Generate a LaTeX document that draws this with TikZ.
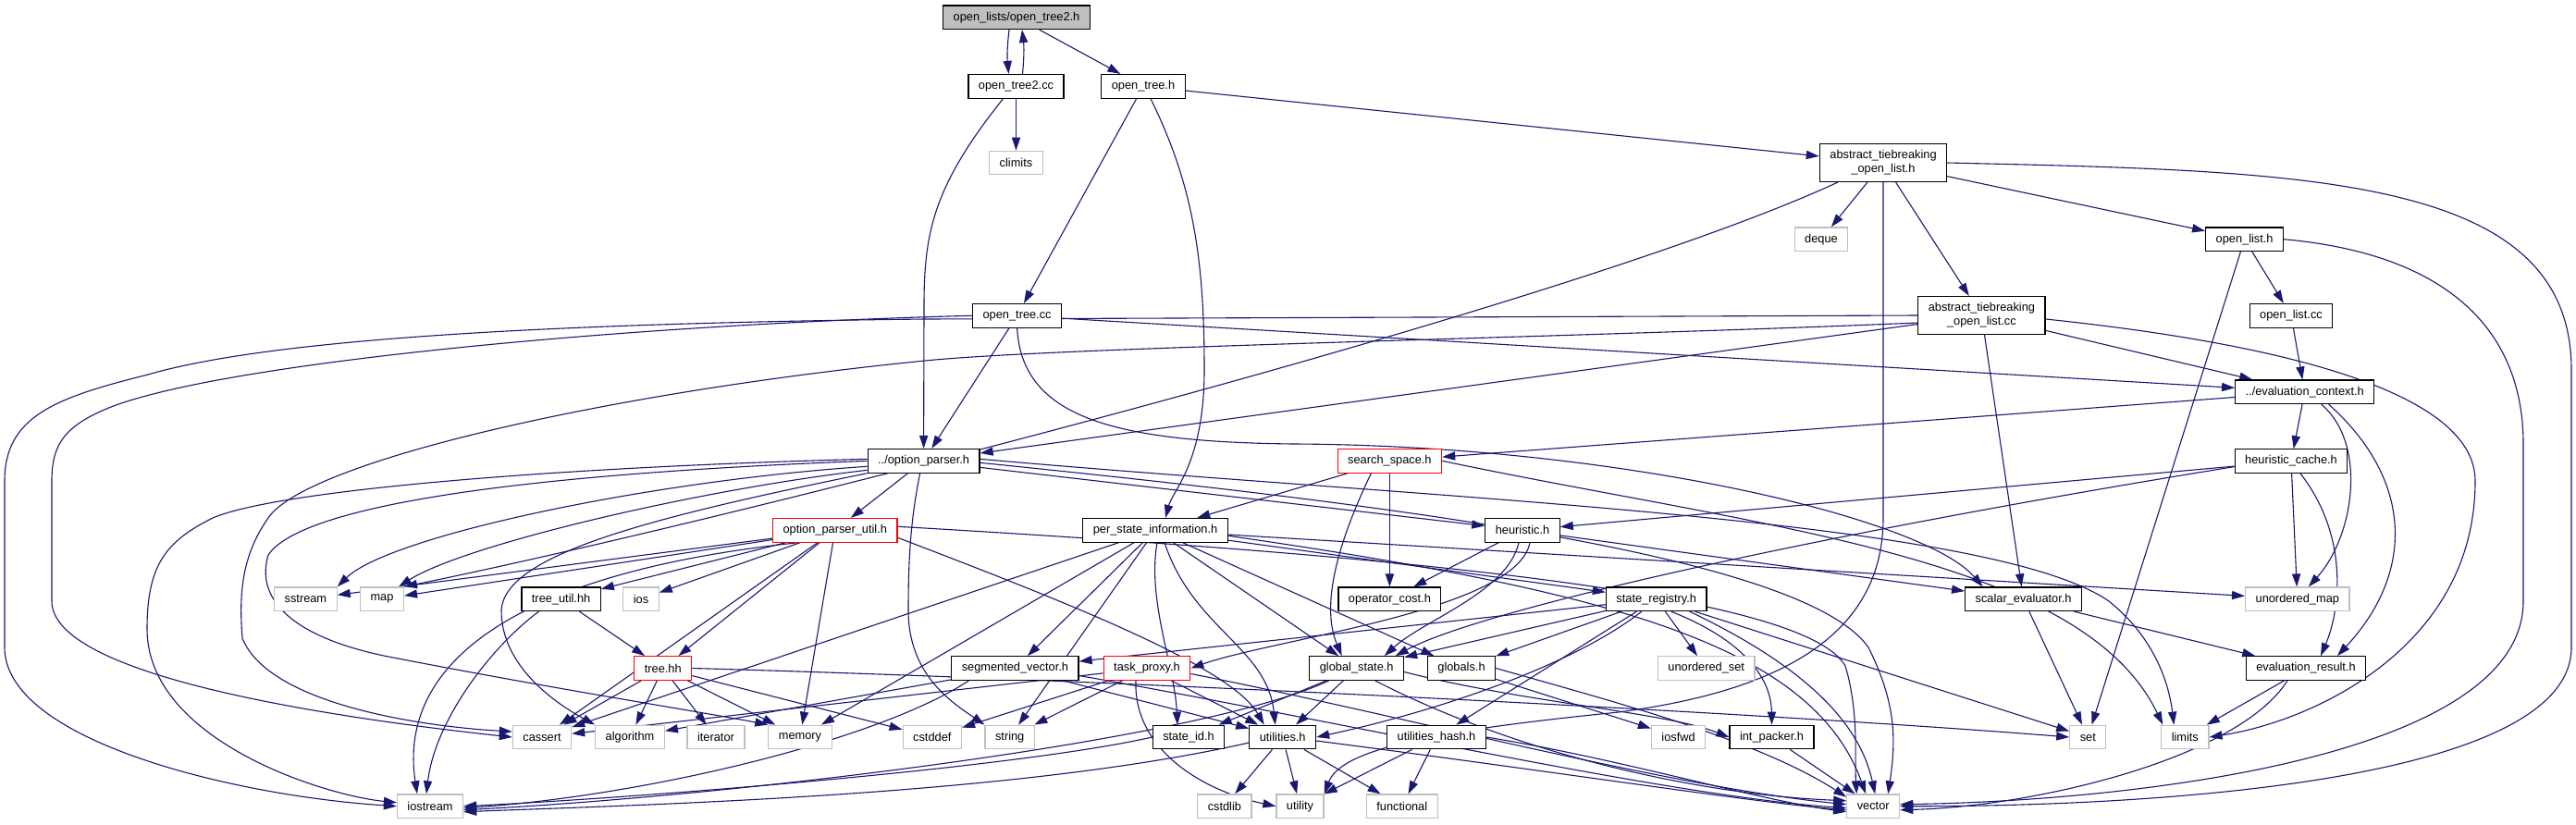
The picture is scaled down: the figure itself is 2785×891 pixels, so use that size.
\documentclass[tikz,border=0pt]{standalone}
\usepackage{fontspec}
\setmainfont{Liberation Sans}
\usepackage{tikz}
\usetikzlibrary{arrows.meta,backgrounds}
\definecolor{navy}{HTML}{191970}
\definecolor{sysgrey}{HTML}{BFBFBF}
\definecolor{rootgrey}{HTML}{BFBFBF}
\definecolor{partred}{HTML}{FF0000}

\begin{document}
\begin{tikzpicture}[x=0.5pt,y=-0.5pt,
    file/.style={draw=black,fill=white,line width=0.6pt,minimum height=12.8pt,
      inner xsep=5.5pt,inner ysep=0pt,font=\fontsize{6.4pt}{7.6pt}\selectfont},
    sys/.style={file,draw=sysgrey},
    part/.style={file,draw=partred},
    twoline/.style={align=center,minimum height=20.5pt},
    edge/.style={draw=navy,line width=0.55pt,-{Triangle[length=7pt,width=4.6pt]}}]
  \useasboundingbox (0,0) rectangle (2785,891);
  % files, row by row
  \node[file,fill=rootgrey] (root) at (1099,18.7) {open\_lists/open\_tree2.h};
  \node[file] (otcc2) at (1098.5,93.3) {open\_tree2.cc};
  \node[file] (oth) at (1236,93.3) {open\_tree.h};
  \node[sys] (climits) at (1098.5,176) {climits};
  \node[file,twoline] (absh) at (2036,176) {abstract\_tiebreaking\\\_open\_list.h};
  \node[sys] (deque) at (1969,258.7) {deque};
  \node[file] (olh) at (2426.6,258.7) {open\_list.h};
  \node[file] (otcc) at (1099.6,341.3) {open\_tree.cc};
  \node[file,twoline] (abscc) at (2142.4,341) {abstract\_tiebreaking\\\_open\_list.cc};
  \node[file] (olcc) at (2477,341.3) {open\_list.cc};
  \node[file] (evc) at (2491.7,423.8) {../evaluation\_context.h};
  \node[file] (op) at (998.6,498.3) {../option\_parser.h};
  \node[part] (ss) at (1502.4,498.3) {search\_space.h};
  \node[file] (hc) at (2477,498.6) {heuristic\_cache.h};
  \node[part] (opu) at (902.8,573.3) {option\_parser\_util.h};
  \node[file] (psi) at (1249,573.3) {per\_state\_information.h};
  \node[file] (heur) at (1646,573.3) {heuristic.h};
  \node[sys] (sstream) at (330.4,647.7) {sstream};
  \node[sys] (map) at (413,647.7) {map};
  \node[file] (tu) at (606.6,647.7) {tree\_util.hh};
  \node[sys] (ios) at (693,647.7) {ios};
  \node[file] (oc) at (1502.4,647.8) {operator\_cost.h};
  \node[file] (sr) at (1790.7,647.8) {state\_registry.h};
  \node[file] (se) at (2187.6,647.8) {scalar\_evaluator.h};
  \node[sys] (umap) at (2483.8,647.8) {unordered\_map};
  \node[part] (tree) at (716.8,722.5) {tree.hh};
  \node[file] (sv) at (1097.4,722.5) {segmented\_vector.h};
  \node[part] (tp) at (1240,722.5) {task\_proxy.h};
  \node[file] (gs) at (1466.7,722.5) {global\_state.h};
  \node[file] (glob) at (1580,722.5) {globals.h};
  \node[sys] (uset) at (1844.7,722.5) {unordered\_set};
  \node[file] (er) at (2493,722.5) {evaluation\_result.h};
  \node[sys] (cassert) at (586,797) {cassert};
  \node[sys] (algorithm) at (681,797) {algorithm};
  \node[sys] (iterator) at (774,797) {iterator};
  \node[sys] (memory) at (865,797) {memory};
  \node[sys] (cstddef) at (1007.8,797) {cstddef};
  \node[sys] (string) at (1091.7,797) {string};
  \node[file] (sid) at (1285,797) {state\_id.h};
  \node[file] (util) at (1386.7,797) {utilities.h};
  \node[file] (uh) at (1553,797) {utilities\_hash.h};
  \node[sys] (iosfwd) at (1814.6,797) {iosfwd};
  \node[file] (ip) at (1915.5,797) {int\_packer.h};
  \node[sys] (set) at (2257.3,797) {set};
  \node[sys] (limits) at (2362.3,797) {limits};
  \node[sys] (iostream) at (465,871.7) {iostream};
  \node[sys] (cstdlib) at (1323.9,871.7) {cstdlib};
  \node[sys] (utility) at (1405.5,871.7) {utility};
  \node[sys] (functional) at (1515.8,871.7) {functional};
  \node[sys] (vector) at (2025.2,871.7) {vector};

  \begin{scope}[on background layer]
    \fill[white] (0,0) rectangle (2785,891);
    % plain includes
    \foreach \a/\b in {root/oth, otcc2/climits, oth/otcc, oth/absh, absh/deque,
        absh/abscc, absh/olh, olh/olcc, olh/set, olcc/evc, abscc/evc, abscc/se,
        abscc/op, otcc/op, otcc/evc, evc/ss, evc/hc, hc/heur, hc/umap, op/opu,
        op/heur, ss/psi, ss/oc, heur/oc, heur/se, psi/sr, psi/sv, psi/gs,
        psi/glob, psi/umap, psi/cassert, psi/memory, psi/string, sr/sv, sr/gs,
        sr/glob, sr/uset, sr/uh, sr/set, opu/tu, opu/ios, opu/tree, opu/sstream,
        opu/map, opu/cassert, opu/memory, tu/tree, tree/cassert, tree/algorithm,
        tree/iterator, tree/memory, tree/cstddef, tp/string, tp/util, tp/cstddef,
        tp/cassert, sv/util, sv/algorithm, gs/sid, gs/util, glob/iosfwd, se/er,
        se/set, er/limits, util/cstdlib, util/utility, util/functional,
        uh/utility, uh/functional, ip/vector}
      \draw[edge] (\a) -- (\b);
    % routed includes
    \draw[edge] ([xshift=-4pt]root.south) to[bend right=6] ([xshift=-4pt]otcc2.north);
    \draw[edge] ([xshift=3.5pt]otcc2.north) to[bend right=6] ([xshift=3pt]root.south);
    \draw[edge] ([xshift=-7pt]otcc2.south) .. controls (1010,200) and (999,250) .. (999,330) -- (op.north);
    \draw[edge] ([xshift=4pt]oth.south) .. controls (1290,200) and (1302,280) .. (1302,400)
      .. controls (1302,500) and (1268,530) .. ([xshift=5.5pt]psi.north);
    \draw[edge] (otcc.south) .. controls (1105,450) and (1200,478) .. (1400,480)
      .. controls (1750,482) and (2080,560) .. ([xshift=-22pt]se.north);
    \draw[edge] (otcc.west) .. controls (700,350) and (250,390) .. (120,440)
      .. controls (70,460) and (56,480) .. (56,520) -- (56,650)
      .. controls (56,730) and (350,775) .. (cassert.west);
    \draw[edge] (abscc.west) -- (1000,345) .. controls (550,350) and (280,370) .. (160,405)
      .. controls (60,430) and (5,450) .. (5,520) -- (5,700)
      .. controls (5,800) and (250,860) .. (iostream.west);
    \draw[edge] ([yshift=-4pt]abscc.west) .. controls (1700,365) and (1150,375) .. (1000,390)
      .. controls (650,425) and (330,500) .. (290,560) .. controls (262,600) and (258,640) .. (262,690)
      .. controls (290,760) and (450,785) .. ([yshift=3pt]cassert.west);
    \draw[edge] ([yshift=-2pt]abscc.east) .. controls (2450,370) and (2676,420) .. (2676,520)
      .. controls (2676,700) and (2500,780) .. (limits.east);
    \draw[edge] ([xshift=10pt]absh.south west) .. controls (1700,330) and (800,560) .. (map.north east);
    \draw[edge] (absh.south) -- (2036,560) .. controls (2036,700) and (1900,750) .. (1750,770)
      .. controls (1550,790) and (1450,810) .. (utility.north east);
    \draw[edge] (absh.east) .. controls (2500,185) and (2780,190) .. (2780,400) -- (2780,700)
      .. controls (2780,850) and (2300,872) .. (vector.east);
    \draw[edge] (olh.east) .. controls (2650,275) and (2728,360) .. (2728,480) -- (2728,650)
      .. controls (2728,820) and (2300,866) .. ([yshift=1pt]vector.east);
    \draw[edge] ([xshift=9pt]evc.south) .. controls (2560,480) and (2545,580) .. ([xshift=6pt]umap.north);
    \draw[edge] ([xshift=13pt]evc.south) .. controls (2610,520) and (2610,620) .. ([xshift=17pt]er.north);
    \draw[edge] ([xshift=5pt]hc.south) .. controls (2540,580) and (2530,660) .. ([xshift=8pt]er.north);
    \draw[edge] ([yshift=-3pt]hc.west) .. controls (1950,580) and (1600,660) .. ([xshift=21pt]gs.north);
    \draw[edge] ([xshift=-2pt]op.south) .. controls (985,560) and (982,600) .. (982,660)
      .. controls (982,730) and (1030,760) .. (string.north west);
    \draw[edge] ([yshift=1pt]op.west) .. controls (600,505) and (300,530) .. (230,560)
      .. controls (180,585) and (159,610) .. (159,680)
      .. controls (159,800) and (350,860) .. ([yshift=2pt]iostream.west);
    \draw[edge] (op.west) .. controls (500,515) and (320,555) .. (290,600)
      .. controls (275,650) and (320,690) .. (420,710)
      .. controls (600,745) and (760,770) .. (memory.north west);
    \draw[edge] ([yshift=-3pt]op.west) .. controls (700,520) and (420,580) .. (sstream.north east);
    \draw[edge] ([yshift=-5pt]op.west) .. controls (750,530) and (500,590) .. ([xshift=-3pt]map.north east);
    \draw[edge] (op.south west) .. controls (700,560) and (545,600) .. (542,660)
      .. controls (542,720) and (600,760) .. (algorithm.north west);
    \draw[edge] ([yshift=-1pt]op.east) .. controls (1500,545) and (1950,600) .. (2020,700)
      .. controls (2050,760) and (2050,800) .. ([xshift=8pt]vector.north);
    \draw[edge] ([yshift=1pt]op.east) .. controls (1550,540) and (2150,560) .. (2280,650)
      .. controls (2330,690) and (2345,740) .. ([xshift=-6pt]limits.north);
    \draw[edge] ([xshift=-10pt]ss.south) .. controls (1440,600) and (1430,660) .. ([xshift=-8pt]gs.north);
    \draw[edge] (ss.east) .. controls (1900,570) and (2250,600) .. ([xshift=-12pt]limits.north);
    \draw[edge] ([xshift=5pt]psi.south) .. controls (1290,680) and (1370,700) .. ([xshift=-4pt]util.north);
    \draw[edge] ([xshift=1pt]psi.south) .. controls (1240,650) and (1270,720) .. ([xshift=-6pt]sid.north);
    \draw[edge] ([yshift=-3pt]psi.east) .. controls (1750,640) and (1960,700) .. ([xshift=-4pt]vector.north);
    \draw[edge] ([xshift=4pt]heur.south) .. controls (1640,660) and (1380,690) .. (tp.east);
    \draw[edge] ([xshift=-2pt]heur.south) .. controls (1630,640) and (1540,670) .. ([xshift=15pt]gs.north);
    \draw[edge] ([xshift=-8pt]sr.south) .. controls (1700,720) and (1550,770) .. (util.east);
    \draw[edge] ([xshift=8pt]sr.south) .. controls (1880,690) and (1915,730) .. (ip.north);
    \draw[edge] ([xshift=18pt]sr.south) .. controls (1950,720) and (2010,780) .. ([xshift=1pt]vector.north);
    \draw[edge] ([yshift=-2pt]gs.east) .. controls (1650,760) and (1800,770) .. (ip.west);
    \draw[edge] ([xshift=-15pt]gs.south) .. controls (1300,800) and (800,860) .. ([yshift=-2pt]iostream.east);
    \draw[edge] ([xshift=10pt]gs.south) .. controls (1650,820) and (1850,860) .. ([yshift=3pt]vector.west);
    \draw[edge] (glob.east) .. controls (1750,760) and (1900,800) .. ([yshift=5pt]vector.west);
    \draw[edge] ([xshift=-6pt]tp.south) .. controls (1225,810) and (1300,855) .. (utility.west);
    \draw[edge] ([yshift=-3pt]tp.east) .. controls (1500,770) and (1800,850) .. ([yshift=1pt]vector.west);
    \draw[edge] ([xshift=-25pt]sv.south) .. controls (950,800) and (700,860) .. ([yshift=-1pt]iostream.east);
    \draw[edge] ([yshift=-4pt]sv.east) .. controls (1450,780) and (1800,860) .. ([yshift=-1pt]vector.west);
    \draw[edge] (sid.west) .. controls (1100,830) and (700,862) .. (iostream.east);
    \draw[edge] ([yshift=-3pt]util.west) .. controls (1100,860) and (700,870) .. ([yshift=-3pt]iostream.east);
    \draw[edge] ([yshift=-2pt]util.east) .. controls (1650,830) and (1900,868) .. ([yshift=-2pt]vector.west);
    \draw[edge] (uh.east) .. controls (1750,820) and (1900,865) .. ([yshift=-3pt]vector.west);
    \draw[edge] ([xshift=-10pt]er.south) .. controls (2420,820) and (2200,872) .. ([yshift=-2pt]vector.east);
    \draw[edge] (tree.east) .. controls (1200,735) and (1900,770) .. (set.west);
    \draw[edge] ([xshift=-12pt]tu.south) .. controls (530,700) and (470,780) .. ([xshift=-2pt]iostream.north);
    \draw[edge] ([xshift=-20pt]opu.south) .. controls (550,620) and (430,720) .. ([xshift=-7pt]iostream.north);
    \draw[edge] ([yshift=-4pt]opu.east) .. controls (1150,650) and (1330,720) .. ([xshift=-10pt]util.north);
    \draw[edge] ([yshift=2pt]opu.east) .. controls (1500,600) and (1950,640) .. (1995,720)
      .. controls (2010,770) and (2005,820) .. ([xshift=-9pt]vector.north);
  \end{scope}
\end{tikzpicture}
\end{document}
